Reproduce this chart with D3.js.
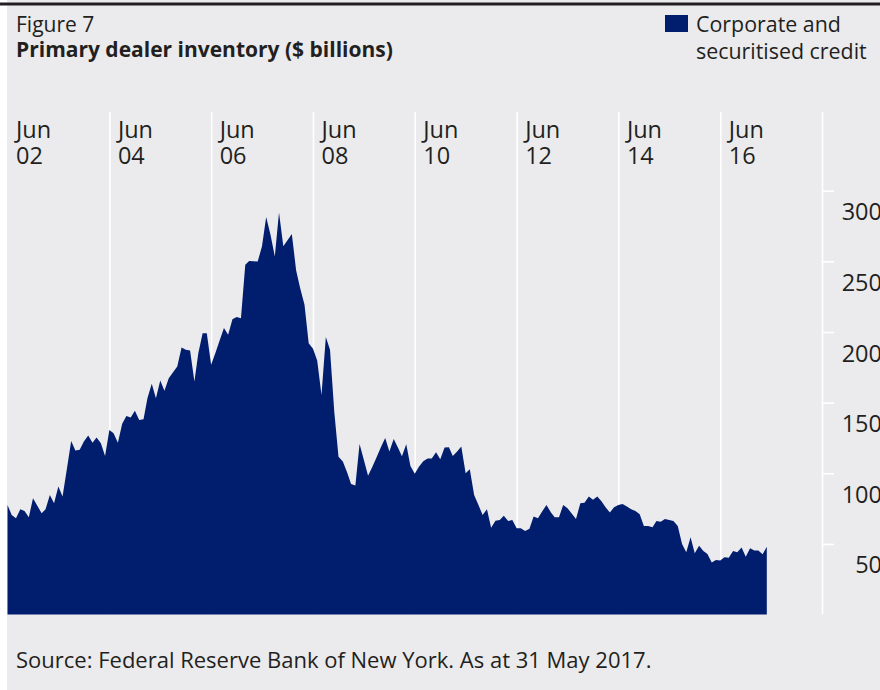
<!DOCTYPE html>
<html>
<head>
<meta charset="utf-8">
<script src="https://cdn.jsdelivr.net/npm/d3@7"></script>
<style>
  html, body { margin: 0; padding: 0; background: #ffffff; }
  svg { display: block; }
  text { font-family: "Open Sans", sans-serif; fill: #231f20; }
</style>
</head>
<body>
<svg id="chart" width="880" height="690"></svg>
<script>
// ---- Data (monthly, Jun 2002 – May 2017, $ billions) ----
const startMonth = new Date(2002, 5, 1);
const endMonth = new Date(2017, 5, 1);
const months = d3.timeMonth.range(startMonth, endMonth);
const seriesName = "Corporate and securitised credit";
const inventory = [
  77.6, 70.5, 68.2, 74.6, 73.4, 68.9, 82.4, 77.0, 71.7, 74.6,
  84.7, 78.8, 90.6, 83.5, 103.0, 122.9, 116.1, 116.6, 122.5, 126.7,
  121.7, 125.3, 121.3, 112.3, 130.7, 128.4, 121.7, 135.0, 140.6, 139.5,
  144.2, 137.8, 138.3, 153.2, 163.3, 153.2, 165.7, 158.4, 167.3, 171.5,
  175.6, 189.0, 187.4, 186.9, 165.0, 185.0, 199.2, 199.2, 176.8, 185.0,
  194.0, 202.8, 198.0, 209.1, 210.6, 209.8, 247.6, 250.2, 250.0, 249.9,
  260.6, 281.4, 268.8, 253.5, 284.6, 260.6, 265.0, 269.3, 243.6, 231.0,
  219.3, 192.1, 188.1, 179.8, 155.5, 196.4, 187.4, 143.0, 111.8, 108.3,
  100.5, 92.5, 91.3, 120.8, 109.5, 98.2, 104.7, 111.5, 118.5, 124.9,
  115.4, 124.2, 118.0, 112.0, 120.6, 105.2, 99.6, 104.7, 108.6, 110.4,
  110.4, 114.9, 110.0, 118.2, 118.5, 112.3, 115.5, 118.9, 100.1, 102.9,
  84.7, 77.6, 70.5, 74.6, 61.5, 66.5, 67.0, 70.0, 66.3, 67.0,
  61.1, 61.1, 59.2, 60.8, 69.5, 68.2, 73.0, 77.6, 72.5, 68.9,
  68.9, 77.6, 75.3, 71.5, 67.7, 78.8, 79.2, 83.5, 81.2, 83.5,
  80.0, 76.0, 72.2, 76.0, 77.5, 78.3, 76.5, 74.6, 73.4, 71.0,
  62.7, 62.7, 61.8, 66.3, 65.8, 67.7, 67.0, 66.3, 62.7, 50.0,
  44.1, 54.7, 43.4, 48.8, 45.0, 42.9, 36.8, 38.7, 38.2, 40.6,
  40.3, 45.0, 44.1, 47.4, 41.0, 47.0, 45.3, 45.3, 42.7, 48.1
];
const gridYears = [2004, 2006, 2008, 2010, 2012, 2014, 2016, 2018];
const labelYears = [2002, 2004, 2006, 2008, 2010, 2012, 2014, 2016];
const labelMonth = "Jun";
const yTicks = [50, 100, 150, 200, 250, 300];
const titleSmall = "Figure 7";
const titleMain = "Primary dealer inventory ($ billions)";
const legendLines = ["Corporate and", "securitised credit"];
const sourceText = "Source: Federal Reserve Bank of New York. As at 31 May 2017.";

// ---- Layout ----
const W = 880, H = 690;
const plot = { left: 7.5, right: 822, top: 112, bottom: 614.6 };
const navy = "#001d6e";
const bg = "#ebebed";

const svg = d3.select("#chart");

// background panel
svg.append("rect").attr("x", 7).attr("y", 0).attr("width", W - 7).attr("height", H).attr("fill", bg);
// top rule
svg.append("rect").attr("x", 0).attr("y", 2.5).attr("width", W).attr("height", 3).attr("fill", "#231f20");

// titles
svg.append("text").attr("x", 16).attr("y", 32).attr("font-size", 21).text(titleSmall);
svg.append("text").attr("x", 16).attr("y", 57).attr("font-size", 21).attr("font-weight", 700).text(titleMain);

// legend
svg.append("rect").attr("x", 665).attr("y", 15).attr("width", 23).attr("height", 17).attr("fill", navy);
svg.append("text").attr("x", 696).attr("y", 31.5).attr("font-size", 21.4).text(legendLines[0]);
svg.append("text").attr("x", 696).attr("y", 58.5).attr("font-size", 21.4).text(legendLines[1]);

// scales
const x = d3.scaleTime()
  .domain([new Date(2002, 5, 1), new Date(2018, 5, 1)])
  .range([plot.left, plot.right]);
const y = d3.scaleLinear()
  .domain([0, 300])
  .range([plot.bottom, 190.7]);

// vertical gridlines via axis
const gridDates = gridYears.map(yr => new Date(yr, 5, 1));
const xGrid = svg.append("g")
  .attr("transform", `translate(0,${plot.top})`)
  .call(d3.axisBottom(x).tickValues(gridDates).tickSize(plot.bottom - plot.top).tickFormat(""));
xGrid.select(".domain").remove();
xGrid.selectAll(".tick line").attr("stroke", "#ffffff").attr("stroke-width", 1.6);

// x labels (two lines)
const labelDates = labelYears.map(yr => new Date(yr, 5, 1));
const xLabels = svg.append("g");
xLabels.selectAll("text.xm").data(labelDates).join("text")
  .attr("class", "xm")
  .attr("font-size", 23.5)
  .attr("x", d => x(d) + 8.5).attr("y", 138).text(labelMonth);
xLabels.selectAll("text.xy").data(labelDates).join("text")
  .attr("class", "xy")
  .attr("font-size", 23.5)
  .attr("x", d => x(d) + 8.5).attr("y", 164).text(d => d3.timeFormat("%y")(d));

// area
const area = d3.area()
  .x((d, i) => x(months[i]))
  .y0(y(0))
  .y1(d => y(d))
  .curve(d3.curveLinear);
svg.append("path")
  .datum(inventory)
  .attr("d", area)
  .attr("fill", navy);

// y axis on right
const yAxis = svg.append("g")
  .attr("transform", `translate(${plot.right},0)`)
  .call(d3.axisRight(y).tickValues(yTicks).tickSize(12).tickFormat(d3.format("d")));
yAxis.select(".domain").remove();
yAxis.selectAll(".tick line").attr("stroke", "#ffffff").attr("stroke-width", 1.6);
yAxis.selectAll(".tick text")
  .attr("x", 60)
  .attr("dy", null)
  .attr("y", 29)
  .attr("text-anchor", "end")
  .attr("font-size", 23.5)
  .attr("font-family", "Open Sans, sans-serif")
  .attr("fill", "#231f20");

// source
svg.append("text").attr("x", 16).attr("y", 668).attr("font-size", 22).text(sourceText);
</script>
</body>
</html>
